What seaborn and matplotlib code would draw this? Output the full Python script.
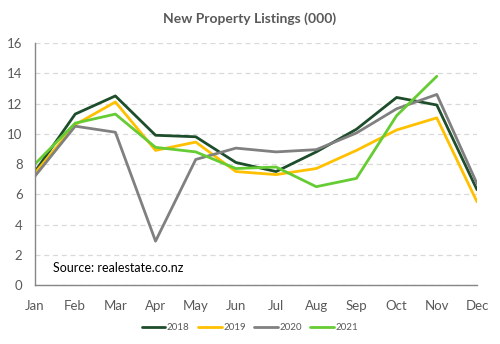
import matplotlib
matplotlib.use("Agg")
import matplotlib.pyplot as plt
import seaborn as sns
import pandas as pd
import numpy as np

months = ["Jan", "Feb", "Mar", "Apr", "May", "Jun", "Jul", "Aug", "Sep", "Oct", "Nov", "Dec"]
y2018 = [7.5, 11.3, 12.5, 9.9, 9.8, 8.1, 7.5, 8.8, 10.3, 12.4, 11.9, 6.3]
y2019 = [7.4, 10.6, 12.1, 8.9, 9.45, 7.5, 7.3, 7.7, 8.9, 10.25, 11.05, 5.5]
y2020 = [7.2, 10.5, 10.1, 2.9, 8.3, 9.05, 8.8, 8.95, 10.05, 11.65, 12.6, 6.7]
y2021 = [8.0, 10.7, 11.3, 9.1, 8.8, 7.7, 7.8, 6.5, 7.05, 11.2, 13.8, None]
years = ["2018", "2019", "2020", "2021"]
colors = ["#1E4D2B", "#FFC000", "#808080", "#66CC33"]

rows = []
for yr, vals in zip(years, [y2018, y2019, y2020, y2021]):
    for i, v in enumerate(vals):
        if v is not None:
            rows.append({"idx": i, "value": v, "year": yr})
df = pd.DataFrame(rows)

sns.set_theme(style="white")
plt.rcParams['font.family'] = ['Lato', 'DejaVu Sans']

fig = plt.figure(figsize=(5, 3.44), dpi=100)
ax = fig.add_axes([0.07, 0.1715, 0.884, 0.7035])

sns.lineplot(data=df, x="idx", y="value", hue="year", palette=colors,
             hue_order=years, linewidth=2.0, ax=ax, legend=True)

ax.set_xlim(0, 11)
ax.set_ylim(0, 16)
ax.set_yticks(range(0, 17, 2))
ax.set_xticks(range(12))
ax.set_xticklabels(months)
ax.set_xlabel("")
ax.set_ylabel("")
ax.yaxis.grid(True, linestyle=(0, (4, 3)), color="#D9D9D9", linewidth=0.9)
ax.set_axisbelow(True)
for s in ["top", "right"]:
    ax.spines[s].set_visible(False)
for s in ["left", "bottom"]:
    ax.spines[s].set_color("#868686")
    ax.spines[s].set_linewidth(1.0)
ax.tick_params(axis="both", length=0, labelsize=9.5, colors="#595959")
ax.tick_params(axis="x", pad=11)
ax.tick_params(axis="y", pad=9)

fig.text(0.5, 0.945, "New Property Listings (000)", ha="center", va="center",
         fontsize=10, fontweight="bold", color="#595959")
ax.text(0.04, 0.045, "Source: realestate.co.nz", transform=ax.transAxes,
        fontsize=9, color="#000000", ha="left", va="bottom")

handles, labels = ax.get_legend_handles_labels()
ax.legend(handles, labels, loc="center", bbox_to_anchor=(0.5, 0.048),
          bbox_transform=fig.transFigure, ncol=4, frameon=False,
          fontsize=7, handlelength=2.4, handletextpad=0.15, columnspacing=0.9,
          labelcolor="#595959")

fig.savefig("out.png", dpi=100)
